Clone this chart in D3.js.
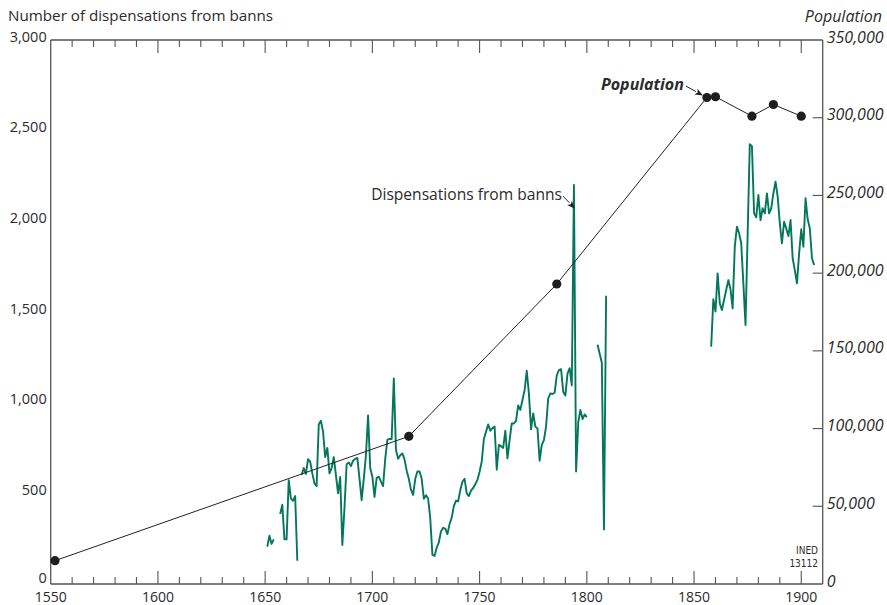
<!DOCTYPE html>
<html><head><meta charset="utf-8">
<script src="https://cdn.jsdelivr.net/npm/d3@7/dist/d3.min.js"></script>
<style>
body{margin:0;background:#fff}
svg{display:block}
text{font-family:"Open Sans","Noto Sans",sans-serif;fill:#2b2b2b}
</style>
</head><body>
<svg id="chart" width="887" height="605"></svg>
<script>
// ---- DATA ----
const xTickYears = [1550, 1600, 1650, 1700, 1750, 1800, 1850, 1900];
const leftTicks = [0, 500, 1000, 1500, 2000, 2500, 3000];
const rightTicks = [0, 50000, 100000, 150000, 200000, 250000, 300000, 350000];

// Population (census / estimates)
const popYears  = [1552, 1717, 1786, 1856, 1860, 1877, 1887, 1900];
const popValues = [15000, 95000, 193000, 313000, 313500, 301000, 308500, 301000];

// Dispensations from banns, annual, first period (null = no data)
const dispStartA = 1651;
const dispValuesA = [
  206, 266, 221, 246, null, null, 386, 437, 246, 246,      // 1651-1660
  573, 472, 459, 485, 128, null, 601, 640, 607, 688,        // 1661-1670
  675, 610, 555, 540, 880, 900, 840, 700, 750, 610,         // 1671-1680
  640, 700, 600, 500, 590, 215, 420, 660, 670, 650,         // 1681-1690
  680, 690, 695, 580, 463, 580, 710, 930, 640, 592,         // 1691-1700
  480, 585, 592, 565, 540, 690, 795, 800, 800, 1134,        // 1701-1710
  740, 690, 710, 720, 687, 625, 580, 520, 491, 580,         // 1711-1720
  620, 620, 580, 470, 490, 472, 360, 160, 155, 200,         // 1721-1730
  230, 290, 310, 305, 275, 330, 365, 430, 460, 455,         // 1731-1740
  518, 564, 580, 500, 485, 515, 530, 550, 574, 619,         // 1741-1750
  675, 800, 840, 880, 845, 860, 868, 630, 767, 760,         // 1751-1760
  750, 846, 693, 794, 886, 885, 900, 985, 960, 1015,        // 1761-1770
  1070, 1176, 1050, 853, 941, 868, 858, 680, 767, 794,      // 1771-1780
  868, 1024, 1051, 1048, 1055, 1150, 1180, 1185, 1060, 1040,// 1781-1790
  1160, 1190, 1095, 2200, 620, 890, 960, 910, 935, 920,     // 1791-1800
  null, null, null, null, 1320, 1270, 1220, 300, 1590       // 1801-1809
];
// second period
const dispStartB = 1858;
const dispValuesB = [
  1309, 1570, 1502, 1713, 1548, 1511, 1566, 1621, 1676, 1625, // 1858-1867
  1520, 1860, 1971, 1934, 1879, 1658, 1428, 1930, 2426, 2415, // 1868-1877
  2044, 2022, 2145, 2007, 2072, 2044, 2154, 2044, 2072, 2154, // 1878-1887
  2219, 2136, 1989, 1879, 1998, 1961, 1919, 2007, 1796, 1731, // 1888-1897
  1658, 1823, 1956, 1860, 2127, 2011, 1960, 1796, 1759        // 1898-1906
];

// ---- CHART ----
const svg = d3.select("#chart");
const mL = 50.7, mR = 822.7, mT = 40, mB = 584;
const axisColor = "#555";
const green = "#04775a";

const x = d3.scaleLinear().domain([1550, 1910]).range([mL, mR]);
const yL = d3.scaleLinear().domain([0, 3000]).range([mB, mT]);
const yR = d3.scaleLinear().domain([0, 350000]).range([mB, mT]);

const fmt = d3.format(",");

// frame lines
const g = svg.append("g");
[[mL, mT, mR, mT], [mL, mB, mR, mB], [mL, mT, mL, mB], [mR, mT, mR, mB]].forEach(c => {
  g.append("line").attr("x1", c[0]).attr("y1", c[1]).attr("x2", c[2]).attr("y2", c[3])
    .attr("stroke", axisColor).attr("stroke-width", 1.3);
});

// x ticks (every 10 years, majors every 50) top and bottom, pointing inward
const allTicks = d3.range(1560, 1910, 10);
allTicks.forEach(t => {
  const major = t % 50 === 0;
  const len = major ? 13 : 7;
  g.append("line").attr("x1", x(t)).attr("x2", x(t)).attr("y1", mB).attr("y2", mB - len)
    .attr("stroke", axisColor).attr("stroke-width", 1.1);
  g.append("line").attr("x1", x(t)).attr("x2", x(t)).attr("y1", mT).attr("y2", mT + len)
    .attr("stroke", axisColor).attr("stroke-width", 1.1);
});
// bottom labels
g.selectAll("text.xl").data(xTickYears).enter().append("text")
  .attr("x", d => x(d)).attr("y", 602).attr("text-anchor", "middle")
  .attr("font-size", 14).text(d => d);

// left labels
g.selectAll("text.yl").data(leftTicks).enter().append("text")
  .attr("x", mL - 4).attr("y", d => yL(d) + (d === 0 ? -1.5 : 1.5)).attr("text-anchor", "end")
  .attr("font-size", 14.5).text(d => fmt(d));

// right ticks + labels
rightTicks.forEach(t => {
  if (t > 0 && t < 350000) {
    g.append("line").attr("x1", mR - 10).attr("x2", mR).attr("y1", yR(t)).attr("y2", yR(t))
      .attr("stroke", axisColor).attr("stroke-width", 1.1);
  }
});
g.selectAll("text.yr").data(rightTicks).enter().append("text")
  .attr("x", mR + 4).attr("y", d => yR(d) + 2.5).attr("text-anchor", "start")
  .attr("font-size", 16).attr("font-style", "italic").text(d => fmt(d));

// axis titles
svg.append("text").attr("x", 8).attr("y", 21).attr("font-size", 15.2)
  .text("Number of dispensations from banns");
svg.append("text").attr("x", 882).attr("y", 22).attr("font-size", 16).attr("text-anchor", "end")
  .attr("font-style", "italic").text("Population");

// dispensations lines
const line = d3.line().defined(d => d.v != null).x(d => x(d.year)).y(d => yL(d.v));
const dataA = dispValuesA.map((v, i) => ({year: dispStartA + i, v}));
const dataB = dispValuesB.map((v, i) => ({year: dispStartB + i, v}));
[dataA, dataB].forEach(dat => {
  svg.append("path").datum(dat).attr("d", line).attr("fill", "none")
    .attr("stroke", green).attr("stroke-width", 1.9).attr("stroke-linejoin", "round");
});

// population line + dots
const popData = popYears.map((yr, i) => ({year: yr, v: popValues[i]}));
svg.append("path").datum(popData)
  .attr("d", d3.line().x(d => x(d.year)).y(d => yR(d.v)))
  .attr("fill", "none").attr("stroke", "#222").attr("stroke-width", 1);
svg.selectAll("circle.pop").data(popData).enter().append("circle")
  .attr("cx", d => x(d.year)).attr("cy", d => yR(d.v)).attr("r", 4.6).attr("fill", "#1e1e1e");

// annotations
function arrow(x1, y1, x2, y2) {
  const ang = Math.atan2(y2 - y1, x2 - x1);
  const L = 8, Wd = 3.2;
  const bx = x2 - L * Math.cos(ang), by = y2 - L * Math.sin(ang);
  svg.append("line").attr("x1", x1).attr("y1", y1).attr("x2", bx).attr("y2", by)
    .attr("stroke", "#222").attr("stroke-width", 1);
  const px = -Math.sin(ang) * Wd, py = Math.cos(ang) * Wd;
  svg.append("path").attr("d", `M${x2},${y2}L${bx + px},${by + py}L${bx + 2*Math.cos(ang)},${by + 2*Math.sin(ang)}L${bx - px},${by - py}Z`)
    .attr("fill", "#222");
}
// Population label
const pTip = {x: x(popYears[3]) - 4, y: yR(popValues[3]) - 2};
svg.append("text").attr("x", pTip.x - 19).attr("y", 90).attr("text-anchor", "end")
  .attr("font-size", 16).attr("font-weight", "bold").attr("font-style", "italic").text("Population");
arrow(pTip.x - 17, 86, pTip.x, pTip.y);

// Dispensations label
const dTip = {x: x(1794) + 1, y: yL(2070)};
svg.append("text").attr("x", dTip.x - 13).attr("y", 200).attr("text-anchor", "end")
  .attr("font-size", 15.6).text("Dispensations from banns");
arrow(dTip.x - 12, 196, dTip.x, dTip.y);

// source tag
svg.append("text").attr("x", 818).attr("y", 554).attr("text-anchor", "end")
  .attr("font-size", 10).style("font-family", "'Liberation Sans Narrow','DejaVu Sans Condensed',sans-serif")
  .attr("fill", "#555").text("INED");
svg.append("text").attr("x", 818).attr("y", 566.5).attr("text-anchor", "end")
  .attr("font-size", 10).style("font-family", "'Liberation Sans Narrow','DejaVu Sans Condensed',sans-serif")
  .attr("fill", "#555").text("13112");
</script>
</body></html>
